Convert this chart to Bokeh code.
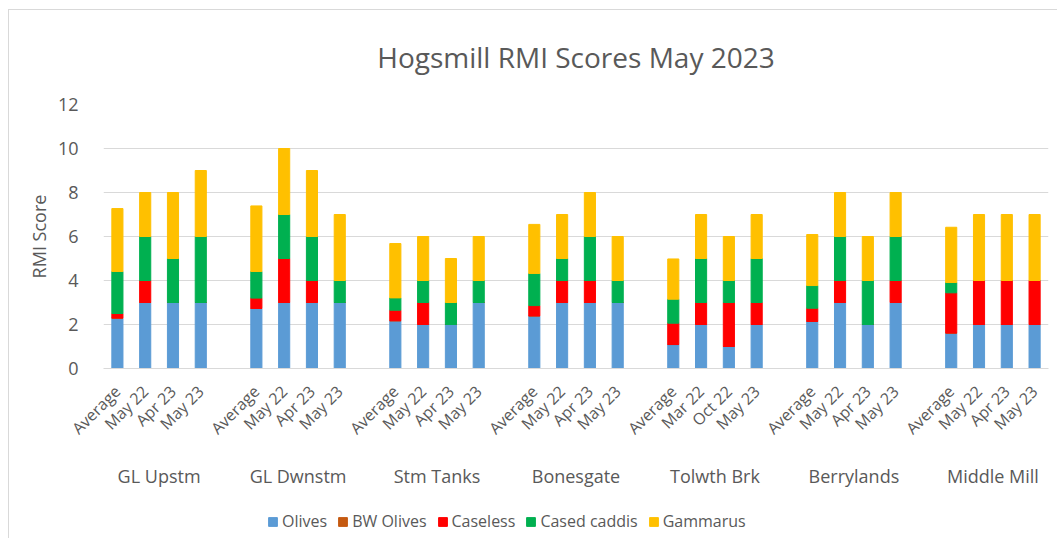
import math
from bokeh.plotting import figure
from bokeh.layouts import column
from bokeh.models import FactorRange, Range1d, Legend, LegendItem, ColumnDataSource, FixedTicker
from bokeh.embed import file_html
from bokeh.resources import INLINE

# ---- data ----
groups = ["GL Upstm", "GL Dwnstm", "Stm Tanks", "Bonesgate", "Tolwth Brk", "Berrylands", "Middle Mill"]
samples = [
    ["Average", "May 22", "Apr 23", "May 23"],
    ["Average", "May 22", "Apr 23", "May 23"],
    ["Average", "May 22", "Apr 23", "May 23"],
    ["Average", "May 22", "Apr 23", "May 23"],
    ["Average", "Mar 22", "Oct 22", "May 23"],
    ["Average", "May 22", "Apr 23", "May 23"],
    ["Average", "May 22", "Apr 23", "May 23"],
]
series_names = ["Olives", "BW Olives", "Caseless", "Cased caddis", "Gammarus"]
olives = [2.29, 3, 3, 3, 2.73, 3, 3, 3, 2.17, 2, 2, 3, 2.39, 3, 3, 3,
          1.09, 2, 1, 2, 2.14, 3, 2, 3, 1.61, 2, 2, 2]
bw_olives = [0, 0, 0, 0, 0, 0, 0, 0, 0, 0, 0, 0, 0, 0, 0, 0,
             0, 0, 0, 0, 0, 0, 0, 0, 0, 0, 0, 0]
caseless = [0.21, 1, 0, 0, 0.47, 2, 1, 0, 0.48, 1, 0, 0, 0.47, 1, 1, 0,
            0.97, 1, 2, 1, 0.60, 1, 0, 1, 1.83, 2, 2, 2]
cased_caddis = [1.91, 2, 2, 3, 1.21, 2, 2, 1, 0.56, 1, 1, 1, 1.46, 1, 2, 1,
                1.09, 2, 1, 2, 1.03, 2, 2, 2, 0.47, 0, 0, 0]
gammarus = [2.86, 2, 3, 3, 2.98, 3, 3, 3, 2.47, 2, 2, 2, 2.23, 2, 2, 2,
            1.83, 2, 2, 2, 2.32, 2, 2, 2, 2.51, 3, 3, 3]
y_ticks = [0, 2, 4, 6, 8, 10, 12]

colors = ["#5B9BD5", "#C55A11", "#FF0000", "#00B050", "#FFC000"]
TEXT = "#595959"
GRID = "#D9D9D9"
FONT = "Open Sans"

factors = [(g, s) for g, subs in zip(groups, samples) for s in subs]
keys = ["olives", "bw_olives", "caseless", "cased_caddis", "gammarus"]
source = ColumnDataSource(dict(x=factors, olives=olives, bw_olives=bw_olives,
                               caseless=caseless, cased_caddis=cased_caddis,
                               gammarus=gammarus))

p = figure(frame_width=945, frame_height=264,
           x_range=FactorRange(*factors, group_padding=1.0, range_padding=0),
           y_range=Range1d(0, 12),
           output_backend="svg", toolbar_location=None,
           min_border_left=94, min_border_right=8, min_border_top=94,
           min_border_bottom=130)

renderers = p.vbar_stack(keys, x="x", width=0.4, color=colors, source=source)

# title
p.title.text = "Hogsmill RMI Scores May 2023"
p.title.align = "center"
p.title.vertical_align = "top"
p.title.text_font = FONT
p.title.text_font_size = "28px"
p.title.text_font_style = "normal"
p.title.text_color = TEXT
p.title.standoff = 54

p.outline_line_color = None
p.xgrid.grid_line_color = None
p.ygrid.grid_line_color = GRID
p.ygrid.grid_line_width = 1

# y axis
p.yaxis.ticker = FixedTicker(ticks=y_ticks)
p.yaxis.axis_line_color = None
p.yaxis.major_tick_line_color = None
p.yaxis.minor_tick_line_color = None
p.yaxis.major_label_standoff = 19
p.yaxis.major_label_text_font = FONT
p.yaxis.major_label_text_font_size = "18px"
p.yaxis.major_label_text_color = TEXT
p.yaxis.axis_label = "RMI Score"
p.yaxis.axis_label_text_font = FONT
p.yaxis.axis_label_text_font_size = "18px"
p.yaxis.axis_label_text_font_style = "normal"
p.yaxis.axis_label_text_color = TEXT
p.yaxis.axis_label_standoff = 4

# x axis
xa = p.xaxis[0]
xa.axis_line_color = GRID
xa.major_tick_line_color = None
xa.minor_tick_line_color = None
xa.major_label_orientation = math.pi / 4
xa.major_label_text_font = FONT
xa.major_label_text_font_size = "16px"
xa.major_label_text_color = TEXT
xa.major_label_standoff = 14
xa.group_text_font = FONT
xa.group_text_font_size = "18px"
xa.group_text_font_style = "normal"
xa.group_text_color = TEXT
xa.separator_line_color = None

# legend strip: a second figure holding the same stacked series (out of view)
pl = figure(width=1048, height=40,
            x_range=FactorRange(*factors, group_padding=1.0, range_padding=0),
            y_range=Range1d(100, 101),
            output_backend="svg", toolbar_location=None,
            x_axis_location=None, y_axis_location=None,
            min_border_left=0, min_border_right=0, min_border_top=0, min_border_bottom=0)
pl.outline_line_color = None
pl.xgrid.grid_line_color = None
pl.ygrid.grid_line_color = None
legend_renderers = pl.vbar_stack(keys, x="x", width=0.4, color=colors, source=source)

legend = Legend(items=[LegendItem(label=n, renderers=[r]) for n, r in zip(series_names, legend_renderers)],
                orientation="horizontal", location=(164, 6))
legend.border_line_color = None
legend.background_fill_alpha = 0
legend.label_text_font = FONT
legend.label_text_font_size = "16px"
legend.label_text_color = TEXT
legend.glyph_width = 11
legend.glyph_height = 11
legend.label_standoff = 4
legend.spacing = 10
legend.padding = 4
legend.margin = 0
pl.add_layout(legend, "center")

layout = column(p, pl)
layout.styles = {"margin-left": "8px", "margin-top": "9px",
                 "border-top": "1px solid #d9d9d9", "border-left": "1px solid #d9d9d9"}

open("out.html", "w").write(file_html(layout, INLINE))
